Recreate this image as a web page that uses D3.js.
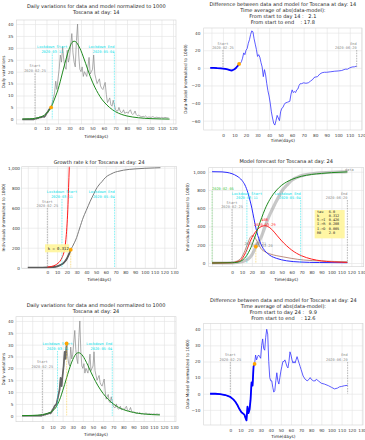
<!DOCTYPE html>
<html>
<head>
<meta charset="utf-8">
<script src="https://cdn.jsdelivr.net/npm/d3@7"></script>
<style>
    html, body { margin: 0; padding: 0; background: #fff; }
    svg { display: block; }
</style>
</head>
<body>
<svg id="fig" width="365" height="440"></svg>
<script>
(function () {

    /* ---------- data ---------- */

    var DAY0 = -20; // first day of the daily series (day 0 = 2020-02-25)

    // daily variations, normalized to 1000, from day -20 to day 116
    var dailyVals = [
        0, 0, 0, 0, 0, 0, 0, 0, 0, 0, 0, 0, 0, 0, 0, 0, 0, 0, 0, 0,
        0.3, 0.3, 0.5, 0.5, 0.8, 0.8, 1.0, 1.2, 1.0, 1.5,
        2.5, 3.0, 4.0, 4.5, 5.0, 7.0, 9.0, 11.0, 16.0, 12.5,
        17.0, 21.0, 27.0, 24.0, 30.5, 25.0, 22.0, 21.0, 29.0, 24.0,
        26.0, 31.0, 36.0, 28.0, 24.0, 22.0, 33.0, 40.0, 27.0, 21.0,
        20.0, 22.0, 18.0, 20.0, 19.0, 18.0, 22.0, 26.0, 19.0, 20.0,
        21.0, 27.0, 19.0, 17.0, 15.0, 16.0, 17.0, 14.0, 13.0, 12.5,
        14.0, 15.5, 10.5, 7.0, 8.0, 9.0, 6.0, 5.5, 8.0, 6.0,
        4.0, 3.5, 3.5, 5.0, 3.5, 2.8, 3.0, 4.0, 2.5, 2.8,
        3.0, 2.5, 3.5, 4.0, 2.5, 2.0, 2.5, 3.5, 2.0, 1.5,
        1.7, 1.5, 1.2, 1.0, 1.3, 1.0, 1.4, 1.0, 0.8, 1.0,
        0.9, 0.8, 1.1, 1.0, 0.7, 0.8, 0.9, 0.7, 0.8, 0.6,
        0.8, 0.7, 0.6, 0.8, 0.7, 0.6, 0.7
    ];

    // model fitted at day 14 (daily)
    var modelDay14 = [
        [-11, 0.1], [-5, 0.2], [0, 0.4], [5, 1.0], [8, 1.7], [10, 2.5], [12, 3.6], [14, 5.0],
        [16, 7.3], [18, 9.8], [20, 12.5], [22, 16], [24, 19.8], [26, 23.5], [28, 27], [30, 30],
        [32, 32.2], [34, 32.8], [36, 32.3], [38, 30.8], [40, 28.8], [42, 26.2], [44, 23.5],
        [46, 20.7], [48, 18], [50, 15.6], [52, 13.5], [55, 10.8], [58, 8.5], [60, 7.3],
        [65, 4.9], [70, 3.2], [75, 2.1], [80, 1.4], [85, 0.95], [90, 0.65], [100, 0.3],
        [110, 0.15], [117, 0.1]
    ];

    // model fitted at day 24 (daily)
    var modelDay24 = [
        [-20, 0.05], [-10, 0.15], [0, 0.5], [5, 1.0], [10, 2.0], [13, 3.3], [15, 4.8], [18, 7.8],
        [20, 10.5], [22, 13.2], [25, 17.5], [28, 21.5], [30, 23.7], [32, 25.4], [34, 26.4],
        [36, 26.6], [38, 26.2], [40, 25.2], [42, 23.8], [45, 21.2], [48, 18.4], [50, 16.6],
        [55, 12.6], [60, 9.4], [65, 6.9], [70, 5.0], [75, 3.6], [80, 2.6], [85, 1.9], [90, 1.4],
        [95, 1.0], [100, 0.75], [108, 0.5], [116, 0.35]
    ];

    // data - model, fit at day 14
    var diffDay14 = [
        [-11, 0], [-8, 0], [-5, -0.3], [-2, -0.5], [0, -0.8], [2, -1.2], [4, -1.8], [6, -2.5],
        [7, -3], [8, -2.8], [9, -2.2], [10, -1.5], [11, -0.5], [12, 1], [13, 2.5], [14, 4.5],
        [15, 5], [16, 7], [17, 11], [18, 17], [19, 15], [20, 20], [21, 22], [22, 28], [23, 32],
        [24, 38], [25, 42], [26, 41], [27, 33], [28, 27], [29, 21], [30, 13], [31, 15], [32, 12],
        [33, 6], [34, 1], [35, -10], [36, -2], [37, -8], [38, -18], [39, -26], [40, -32],
        [41, -40], [42, -50], [43, -57], [44, -63], [45, -65], [46, -60], [47, -54], [48, -57],
        [49, -60], [50, -50], [51, -46], [52, -45], [53, -42], [54, -40], [56, -39], [58, -38],
        [59, -30], [60, -25], [61, -28], [62, -27], [63, -28], [64, -25], [65, -24], [66, -20],
        [67, -18], [68, -18], [70, -17], [72, -17.5], [74, -17], [76, -15], [78, -13], [79, -11],
        [80, -10.5], [82, -10], [84, -7], [86, -5.5], [88, -5], [90, -5], [93, -4.5], [97, -3.8],
        [100, -3.5], [103, -3], [106, -1.5], [108, -1.5], [110, 0], [112, 1], [114, 1.2], [116, 2]
    ];

    // data - model, fit at day 24
    var diffDay24 = [
        [-20, 0], [-15, 0], [-10, -0.3], [-5, -0.8], [0, -2], [3, -3.5], [5, -5], [7, -7],
        [9, -9.5], [11, -11.5], [12, -12], [13, -12.5], [14, -13], [15, -15], [16, -16.5],
        [17, -8], [18, -12], [19, -10], [20, -4], [21, 7], [22, 5], [23, 17], [24, 18.5],
        [25, 24], [26, 21], [27, 23], [28, 24], [29, 23], [30, 22], [31, 30], [32, 34], [33, 28],
        [34, 27], [35, 35], [36, 40], [37, 37], [38, 20], [39, 10], [40, 8], [41, 8], [42, 4],
        [43, 1], [44, 2], [45, 8], [46, 13], [47, 8], [48, 6], [49, 10], [50, 14], [51, 17],
        [52, 20], [53, 20], [54, 21], [55, 19], [56, 17], [57, 16], [58, 20], [59, 26], [60, 24],
        [61, 21], [62, 19], [63, 20], [64, 19], [65, 21], [66, 23], [67, 21], [68, 19], [69, 17],
        [70, 15], [72, 11], [74, 9], [76, 8], [78, 9], [79, 10], [80, 9], [82, 8], [84, 8],
        [85, 9], [87, 8], [90, 6.5], [93, 6], [97, 5], [100, 4], [103, 3], [106, 3.5],
        [108, 4.3], [110, 4.5], [113, 5], [116, 5.2]
    ];

    // cumulative individuals (data), normalized to 1000
    var cumData = [
        [-20, 0], [-10, 0], [0, 2], [5, 6], [10, 14], [14, 30], [16, 42], [18, 62], [20, 90],
        [22, 130], [24, 180], [26, 215], [28, 255], [30, 300], [32, 360], [34, 420], [36, 480],
        [38, 530], [40, 575], [42, 620], [44, 665], [46, 705], [48, 745], [50, 785], [52, 815],
        [54, 840], [56, 860], [58, 885], [60, 905], [62, 920], [65, 935], [68, 950], [72, 962],
        [78, 975], [84, 983], [90, 988], [100, 994], [110, 998], [116, 1000]
    ];

    // exponential growth with k = 0.312
    var expGrowth = [
        [0, 6], [4, 12], [8, 25], [11, 45], [13, 65], [15, 100], [16.5, 135], [18, 200],
        [19, 280], [20, 400], [21, 580], [21.8, 800], [22.5, 1000], [22.8, 1080]
    ];

    // model forecast curves (day 24)
    var fcBlue = [
        [-20, 1000], [-10, 998], [-5, 992], [0, 978], [5, 952], [10, 905], [13, 855], [16, 770],
        [18, 690], [20, 600], [22, 490], [24, 385], [26, 300], [28, 235], [30, 185], [33, 135],
        [38, 85], [45, 50], [55, 24], [68, 11], [88, 5], [116, 3]
    ];
    var fcRed = [
        [-20, 0], [0, 3], [5, 12], [10, 45], [15, 145], [18, 230], [22, 315], [26, 372],
        [30, 402], [33, 408], [36, 400], [40, 368], [45, 305], [50, 242], [55, 188], [60, 142],
        [65, 106], [70, 79], [80, 43], [90, 23], [100, 13], [110, 8], [116, 6]
    ];
    var fcGreen = [
        [-20, 0], [0, 3], [5, 8], [10, 28], [15, 85], [18, 145], [20, 195], [22, 255], [25, 345],
        [28, 440], [30, 500], [33, 585], [38, 695], [45, 800], [50, 852], [55, 888], [60, 915],
        [65, 935], [70, 950], [80, 970], [90, 981], [100, 990], [116, 998]
    ];
    var fcBrown = [
        [-20, 0], [0, 5], [8, 40], [12, 110], [16, 220], [19, 290], [21, 300], [23, 280],
        [26, 220], [29, 160], [33, 125], [38, 100], [45, 80], [52, 66], [60, 50], [72, 33],
        [90, 22], [116, 14]
    ];

    var paramNames  = ["tau", "k", "S->I", "I->R", "I->D", "R0"];
    var paramValues = ["6.0", "0.312", "0.426", "0.208", "0.005", "2.0"];

    var xTicks120  = [0, 10, 20, 30, 40, 50, 60, 70, 80, 90, 100, 110, 120];
    var xTicks130  = [0, 10, 20, 30, 40, 50, 60, 70, 80, 90, 100, 110, 120, 130];
    var yTicksDaily = [0, 5, 10, 15, 20, 25, 30, 35, 40];
    var yTicksDiff14 = [-60, -40, -20, 0, 20, 40];
    var yTicksDiff24 = [-10, 0, 10, 20, 30, 40];
    var yTicksInd   = [0, 200, 400, 600, 800, 1000];

    /* ---------- style ---------- */

    var GRID  = "#e3e3e3";
    var FRAME = "#d2d2d2";
    var CYAN  = "#00e0e8";
    var SANS  = "'DejaVu Sans', sans-serif";
    var MONO  = "'DejaVu Sans Mono', monospace";
    var TICK_FS = 4.2;

    var svg  = d3.select("#fig");
    var defs = svg.append("defs");

    /* ---------- panel frame ---------- */
    function makePanel(p, id) {
        var x = d3.scaleLinear().domain(p.xDom).range([p.left, p.right]);
        var y = d3.scaleLinear().domain(p.yDom).range([p.bottom, p.top]);
        var w = p.right - p.left;
        var h = p.bottom - p.top;
        var g = svg.append("g").attr("class", "panel-" + id);

        defs.append("clipPath").attr("id", "clip-" + id)
            .append("rect")
            .attr("x", p.left).attr("y", p.top)
            .attr("width", w).attr("height", h);

        // grid
        g.append("g")
            .attr("transform", "translate(0," + p.bottom + ")")
            .call(d3.axisBottom(x).tickValues(p.xGrid).tickSize(-h).tickFormat(""))
            .call(function (s) { s.select(".domain").remove(); })
            .selectAll("line").attr("stroke", GRID).attr("stroke-width", 0.6);
        g.append("g")
            .attr("transform", "translate(" + p.left + ",0)")
            .call(d3.axisLeft(y).tickValues(p.yTicks).tickSize(-w).tickFormat(""))
            .call(function (s) { s.select(".domain").remove(); })
            .selectAll("line").attr("stroke", GRID).attr("stroke-width", 0.6);

        g.append("rect")
            .attr("x", p.left).attr("y", p.top)
            .attr("width", w).attr("height", h)
            .attr("fill", "none").attr("stroke", FRAME).attr("stroke-width", 0.6);

        // tick labels
        var ax = g.append("g")
            .attr("transform", "translate(0," + p.bottom + ")")
            .call(d3.axisBottom(x).tickValues(p.xTicks).tickSize(0)
                .tickPadding(p.xTickC - p.bottom - 0.35 * TICK_FS));
        var ay = g.append("g")
            .attr("transform", "translate(" + p.left + ",0)")
            .call(d3.axisLeft(y).tickValues(p.yTicks).tickSize(0)
                .tickPadding(p.left - p.yTickR));
        [ax, ay].forEach(function (a) {
            a.select(".domain").remove();
            a.attr("font-size", TICK_FS).attr("font-family", SANS);
            a.selectAll("text").attr("fill", "#3a3a3a");
        });

        // titles
        var cx = (p.left + p.right) / 2;
        p.titles.forEach(function (t, i) {
            g.append("text")
                .attr("x", cx).attr("y", p.titleY[i])
                .attr("text-anchor", "middle")
                .attr("font-family", SANS).attr("font-size", 5)
                .attr("fill", "#222")
                .style("white-space", "pre")
                .text(t);
        });

        // axis labels
        g.append("text")
            .attr("x", cx).attr("y", p.xlabY)
            .attr("text-anchor", "middle")
            .attr("font-family", SANS).attr("font-size", 4.3)
            .attr("fill", "#222")
            .text("Time(days)");
        g.append("text")
            .attr("transform", "translate(" + p.ylabX + "," + ((p.top + p.bottom) / 2) + ") rotate(-90)")
            .attr("text-anchor", "middle").attr("dy", "0.35em")
            .attr("font-family", SANS).attr("font-size", 4.2)
            .attr("fill", "#222")
            .text(p.ylab);

        var plot = g.append("g").attr("clip-path", "url(#clip-" + id + ")");
        return { g: g, plot: plot, x: x, y: y };
    }

    /* ---------- helpers ---------- */
    function drawLine(P, pts, color, width, curve, opacity) {
        var line = d3.line()
            .x(function (d) { return P.x(d[0]); })
            .y(function (d) { return P.y(d[1]); })
            .curve(curve || d3.curveLinear);
        P.plot.append("path")
            .datum(pts)
            .attr("fill", "none")
            .attr("stroke", color)
            .attr("stroke-width", width)
            .attr("stroke-linejoin", "round")
            .attr("stroke-opacity", opacity == null ? 1 : opacity)
            .attr("d", line);
    }

    function vline(P, day, v0, v1, color, dash, width) {
        P.g.append("line")
            .attr("x1", P.x(day)).attr("x2", P.x(day))
            .attr("y1", P.y(v0)).attr("y2", P.y(v1))
            .attr("stroke", color)
            .attr("stroke-width", width || 0.6)
            .attr("stroke-dasharray", dash);
    }

    function note(P, day, v, txt, color, anchor, fs) {
        P.g.append("text")
            .attr("x", P.x(day)).attr("y", P.y(v))
            .attr("text-anchor", anchor || "middle")
            .attr("font-family", MONO)
            .attr("font-size", fs || 3.6)
            .attr("fill", color)
            .style("white-space", "pre")
            .text(txt);
    }

    // two-line label plus a vertical marker below it
    function marker(P, day, vTxt1, vTxt2, vTop, lines, color, anchor, dash) {
        note(P, day, vTxt1, lines[0], color, anchor);
        note(P, day, vTxt2, lines[1], color, anchor);
        vline(P, day, vTop, 0, color, dash, 0.6);
    }

    function dot(P, day, v) {
        P.g.append("circle")
            .attr("cx", P.x(day)).attr("cy", P.y(v))
            .attr("r", 1.9)
            .attr("fill", "#ffa500");
    }

    function dailyPts(from, to) {
        var out = [];
        dailyVals.forEach(function (v, i) {
            var d = DAY0 + i;
            if (d >= from && d <= to) out.push([d, v]);
        });
        return out;
    }

    function upTo(pts, last) {
        return pts.filter(function (d) { return d[0] <= last; });
    }

    var GRAY_DASH = "1.6,1";
    var CYAN_DASH = "0.8,0.8";

    /* ---------- panel 1: daily, day 14 ---------- */
    var P1 = makePanel({
        left: 16.5, right: 176, top: 20, bottom: 124,
        xDom: [-16.1, 122.6], yDom: [-1.97, 41.7],
        xTicks: xTicks120, xGrid: [-10].concat(xTicks120), yTicks: yTicksDaily,
        titles: ["Daily variations for data and model normalized to 1000", "Toscana at day: 14"],
        titleY: [8, 13.7], ylab: "Daily variations", ylabX: 3.5,
        xlabY: 137.6, xTickC: 128.6, yTickR: 13.4
    }, "p1");
    drawLine(P1, dailyPts(-11, 116), "#8a8a8a", 0.7);
    drawLine(P1, dailyPts(-11, 14), "#666", 1.7);
    drawLine(P1, modelDay14, "#1f8a1f", 1.0, d3.curveMonotoneX);
    marker(P1, 0, 21.8, 19.9, 19.3, ["Start", "2020-02-25"], "#8a8a8a", "middle", GRAY_DASH);
    marker(P1, 15, 29.9, 27.8, 27.6, ["Lockdown Start", "2020-03-11"], CYAN, "middle", CYAN_DASH);
    marker(P1, 69, 29.9, 27.8, 27.6, ["Lockdown End", "2020-05-04"], CYAN, "end", CYAN_DASH);
    dot(P1, 14, 5.0);

    /* ---------- panel 2: difference, day 14 ---------- */
    var P2 = makePanel({
        left: 203.7, right: 362, top: 28, bottom: 130,
        xDom: [-16.7, 120.6], yDom: [-70.6, 45.3],
        xTicks: xTicks120, xGrid: [-10].concat(xTicks120), yTicks: yTicksDiff14,
        titles: ["Difference between data and model for Toscana at day: 14",
                 "Time average of abs(data-model):",
                 "From start to day 14 :   2.1",
                 "From start to end    : 17.8"],
        titleY: [5.7, 11.7, 17.7, 23.7], ylab: "Data-Model (normalized to 1000)", ylabX: 186,
        xlabY: 142.3, xTickC: 135, yTickR: 200.3
    }, "p2");
    drawLine(P2, diffDay14, "#3333ff", 0.8);
    drawLine(P2, upTo(diffDay14, 14), "#0000ff", 1.8);
    marker(P2, 0, 26.5, 21.5, 20.3, ["Start", "2020-02-25"], "#8a8a8a", "middle", GRAY_DASH);
    marker(P2, 116, 26.5, 21.5, 20.3, ["End", "2020-06-20"], "#8a8a8a", "end", GRAY_DASH);
    dot(P2, 14, 4.5);

    /* ---------- panel 3: growth rate ---------- */
    var P3 = makePanel({
        left: 21.7, right: 176.7, top: 166.7, bottom: 268.3,
        xDom: [-26.3, 132.7], yDom: [-6, 1010],
        xTicks: xTicks130, xGrid: [-20, -10].concat(xTicks130), yTicks: yTicksInd,
        titles: ["Growth rate k for Toscana at day: 24"],
        titleY: [164], ylab: "Individuals (normalized to 1000)", ylabX: 3.3,
        xlabY: 280.6, xTickC: 272.3, yTickR: 20
    }, "p3");
    drawLine(P3, cumData, "#7a7a7a", 1.0, d3.curveMonotoneX);
    drawLine(P3, upTo(cumData, 24), "#5a5a5a", 1.8, d3.curveMonotoneX);
    drawLine(P3, expGrowth, "#ff1a1a", 1.0, d3.curveMonotoneX);
    marker(P3, 0, 647, 607, 597, ["Start", "2020-02-25"], "#8a8a8a", "middle", GRAY_DASH);
    marker(P3, 15, 747, 697, 687, ["Lockdown Start", "2020-03-11"], CYAN, "middle", CYAN_DASH);
    marker(P3, 69, 747, 697, 687, ["Lockdown End", "2020-05-04"], CYAN, "end", CYAN_DASH);
    vline(P3, 24, 180, 0, "#f5c842", "0.8,0.8", 0.7);
    P3.g.append("rect")
        .attr("x", P3.x(-2.4)).attr("y", P3.y(234))
        .attr("width", P3.x(22.5) - P3.x(-2.4))
        .attr("height", P3.y(154) - P3.y(234))
        .attr("fill", "#fff59a").attr("fill-opacity", 0.9);
    note(P3, 0.4, 179, "k = 0.312", "#222", "start", 3.9);
    dot(P3, 24, 180);

    /* ---------- panel 4: model forecast ---------- */
    var P4 = makePanel({
        left: 208.7, right: 363.7, top: 167.7, bottom: 266.7,
        xDom: [-23.4, 132.4], yDom: [-40.5, 1043.8],
        xTicks: xTicks130, xGrid: [-20, -10].concat(xTicks130), yTicks: yTicksInd,
        titles: ["Model forecast for Toscana at day: 24"],
        titleY: [163.4], ylab: "Individuals (normalized to 1000)", ylabX: 188,
        xlabY: 280.6, xTickC: 272.3, yTickR: 205.3
    }, "p4");
    drawLine(P4, cumData, "#9a9a9a", 3.2, d3.curveMonotoneX, 0.55);
    drawLine(P4, fcBrown, "#a0604a", 1.0, d3.curveMonotoneX, 0.7);
    drawLine(P4, fcBlue, "#2a2aff", 1.0, d3.curveMonotoneX);
    drawLine(P4, fcRed, "#ff2020", 1.0, d3.curveMonotoneX);
    drawLine(P4, fcGreen, "#1f8a1f", 1.0, d3.curveMonotoneX);

    note(P4, -20, 804, "2020-02-05", "#3cc43c", "start");
    vline(P4, -20, 789, 0, "#3cc43c", CYAN_DASH, 0.6);
    marker(P4, 15, 749, 701, 690, ["Lockdown Start", "2020-03-11"], CYAN, "middle", CYAN_DASH);
    marker(P4, 69, 749, 701, 690, ["Lockdown End", "2020-05-04"], CYAN, "end", CYAN_DASH);
    marker(P4, 0, 651, 602, 590, ["Start", "2020-02-25"], "#8a8a8a", "middle", GRAY_DASH);
    marker(P4, 116, 749, 701, 690, ["End", "2020-06-20"], "#8a8a8a", "end", GRAY_DASH);
    note(P4, 33, 457, "408", "#ff2020", "middle");
    note(P4, 33, 410, "2020-03-29", "#ff2020", "middle");
    note(P4, 23.4, 201, "2020-03-21", "#8a8a8a", "middle");
    note(P4, 30, 172, "2020-03-20", "#8a8a8a", "middle");
    note(P4, 113.5, 1004, "data", "#8a8a8a", "start");
    vline(P4, 24, 180, 0, "#f5c842", "0.8,0.8", 0.7);
    dot(P4, 24, 180);

    // parameter box
    P4.g.append("rect")
        .attr("x", P4.x(83.1)).attr("y", P4.y(580))
        .attr("width", P4.x(113.3) - P4.x(83.1))
        .attr("height", P4.y(270) - P4.y(580))
        .attr("fill", "#fff59a").attr("fill-opacity", 0.9);
    paramNames.forEach(function (n, i) {
        var v = 552 - i * 47;
        note(P4, 85.4, v, n, "#222", "start", 3.5);
        note(P4, 97.2, v, paramValues[i], "#222", "start", 3.5);
    });

    /* ---------- panel 5: daily, day 24 ---------- */
    var P5 = makePanel({
        left: 16, right: 176, top: 316.7, bottom: 421.7,
        xDom: [-26, 131.9], yDom: [-2.5, 41.8],
        xTicks: xTicks130, xGrid: [-20, -10].concat(xTicks130), yTicks: yTicksDaily,
        titles: ["Daily variations for data and model normalized to 1000", "Toscana at day: 24"],
        titleY: [307.4, 313.4], ylab: "Daily variations", ylabX: 3.5,
        xlabY: 435.6, xTickC: 427.3, yTickR: 13.3
    }, "p5");
    drawLine(P5, dailyPts(-20, 116), "#8a8a8a", 0.7);
    drawLine(P5, dailyPts(-20, 24), "#666", 1.7);
    drawLine(P5, modelDay24, "#1f8a1f", 1.0, d3.curveMonotoneX);
    marker(P5, 0, 22.3, 20.2, 19.3, ["Start", "2020-02-25"], "#8a8a8a", "middle", GRAY_DASH);
    marker(P5, 15, 30, 27.9, 27.3, ["Lockdown Start", "2020-03-11"], CYAN, "middle", CYAN_DASH);
    marker(P5, 69, 30, 27.9, 27.3, ["Lockdown End", "2020-05-04"], CYAN, "end", CYAN_DASH);
    vline(P5, 24, 30.5, 0, "#f5c842", "0.8,0.8", 0.7);
    dot(P5, 24, 30.5);

    /* ---------- panel 6: difference, day 24 ---------- */
    var P6 = makePanel({
        left: 203.7, right: 363, top: 323.3, bottom: 425,
        xDom: [-26.3, 131.2], yDom: [-19.4, 43.7],
        xTicks: xTicks130, xGrid: [-20, -10].concat(xTicks130), yTicks: yTicksDiff24,
        titles: ["Difference between data and model for Toscana at day: 24",
                 "Time average of abs(data-model):",
                 "From start to day 24 :   9.9",
                 "From start to end    : 12.6"],
        titleY: [302.4, 308.4, 314.4, 320.4], ylab: "Data-Model (normalized to 1000)", ylabX: 188,
        xlabY: 438.3, xTickC: 430, yTickR: 200.3
    }, "p6");
    drawLine(P6, diffDay24, "#3333ff", 0.8);
    drawLine(P6, upTo(diffDay24, 24), "#0000ff", 1.8);
    marker(P6, 0, 23.2, 20.6, 19.7, ["Start", "2020-02-25"], "#8a8a8a", "middle", GRAY_DASH);
    marker(P6, 116, 23.2, 20.6, 19.7, ["End", "2020-06-20"], "#8a8a8a", "end", GRAY_DASH);
    dot(P6, 24, 18.5);

}());
</script>
</body>
</html>
